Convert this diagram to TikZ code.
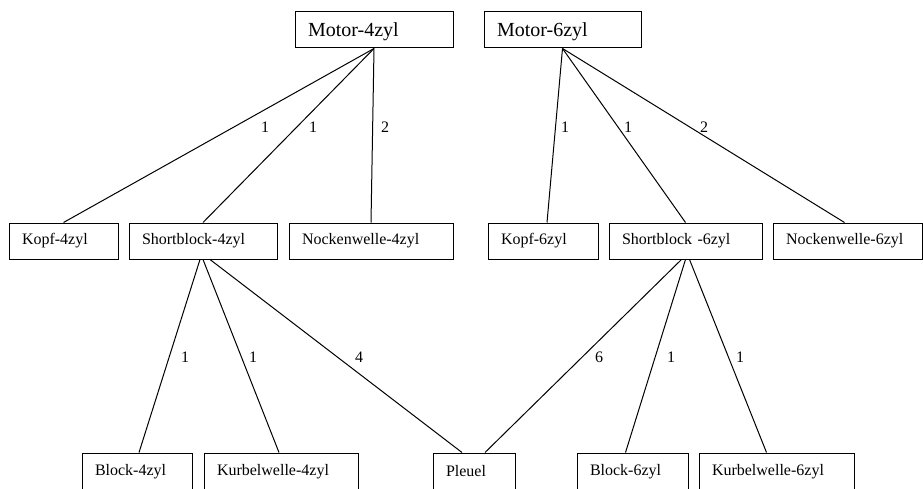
\documentclass[tikz,border=0pt]{standalone}
\usepackage{fontspec}
\setmainfont{Liberation Serif}
\usepackage{tikz}

\begin{document}
\begin{tikzpicture}[
        x=1pt, y=-1pt,
        line width=1pt,
        every node/.style={font=\fontsize{16}{19}\selectfont},
        teil/.style={draw, inner xsep=13pt, inner ysep=0pt, minimum height=36pt, align=left},
        motor/.style={teil, text depth=0pt, font=\fontsize{20}{24}\selectfont},
        unten/.style={teil, minimum height=37pt},
        menge/.style={inner sep=0pt}
    ]
    \useasboundingbox (0,0) rectangle (923,489);
    \def\ob{30}
    \def\mi{241}
    \def\un{471.5}
    % Motoren
    \node[motor, text width=132pt] (m4) at (374,\ob) {Motor-4zyl};
    \node[motor, text width=131pt] (m6) at (562.5,\ob) {Motor-6zyl};
    % mittlere Ebene
    \node[teil, text width=83pt] (k4) at (63.5,\mi) {Kopf-4zyl};
    \node[teil, text width=122pt] (s4) at (203,\mi) {Shortblock-4zyl};
    \node[teil, text width=138pt] (n4) at (371,\mi) {Nockenwelle-4zyl};
    \node[teil, text width=84pt] (k6) at (543,\mi) {Kopf-6zyl};
    \node[teil, text width=127pt] (s6) at (685.5,\mi) {Shortblock -6zyl};
    \node[teil, text width=123pt] (n6) at (847.5,\mi) {Nockenwelle-6zyl};
    % untere Ebene
    \node[unten, text width=84pt] (b4) at (137,\un) {Block-4zyl};
    \node[unten, text width=128pt] (kw4) at (281,\un) {Kurbelwelle-4zyl};
    \node[unten, text width=56pt] (pl) at (474,\un) {Pleuel};
    \node[unten, text width=85pt] (b6) at (632.5,\un) {Block-6zyl};
    \node[unten, text width=129pt] (kw6) at (776.5,\un) {Kurbelwelle-6zyl};
    % Verbindungen
    \foreach \k in {k4,s4,n4}
        \draw (m4.south) -- (\k.north);
    \draw (m6.south) -- ([xshift=4pt]k6.north);
    \draw (m6.south) -- (s6.north);
    \draw (m6.south) -- ([xshift=-3pt]n6.north);
    \draw ([xshift=-3pt]s4.south) -- ([xshift=2pt]b4.north);
    \draw (s4.south) -- ([xshift=-2pt]kw4.north);
    \draw ([xshift=7pt]s4.south) -- ([xshift=-12pt]pl.north);
    \draw ([xshift=-4pt]s6.south) -- ([xshift=11pt]pl.north);
    \draw (s6.south) -- ([xshift=-7pt]b6.north);
    \draw ([xshift=4pt]s6.south) -- ([xshift=-10pt]kw6.north);
    % Mengen
    \foreach \x/\y/\z [count=\i] in {265/127/1, 313/127/1, 385/127/2, 565/127/1, 628/127/1, 704/127/2,
                                     185/357/1, 253/357/1, 359/357/4, 599/357/6, 671/357/1, 740/357/1}
        \node[menge] (z\i) at (\x,\y) {\z};
\end{tikzpicture}
\end{document}
